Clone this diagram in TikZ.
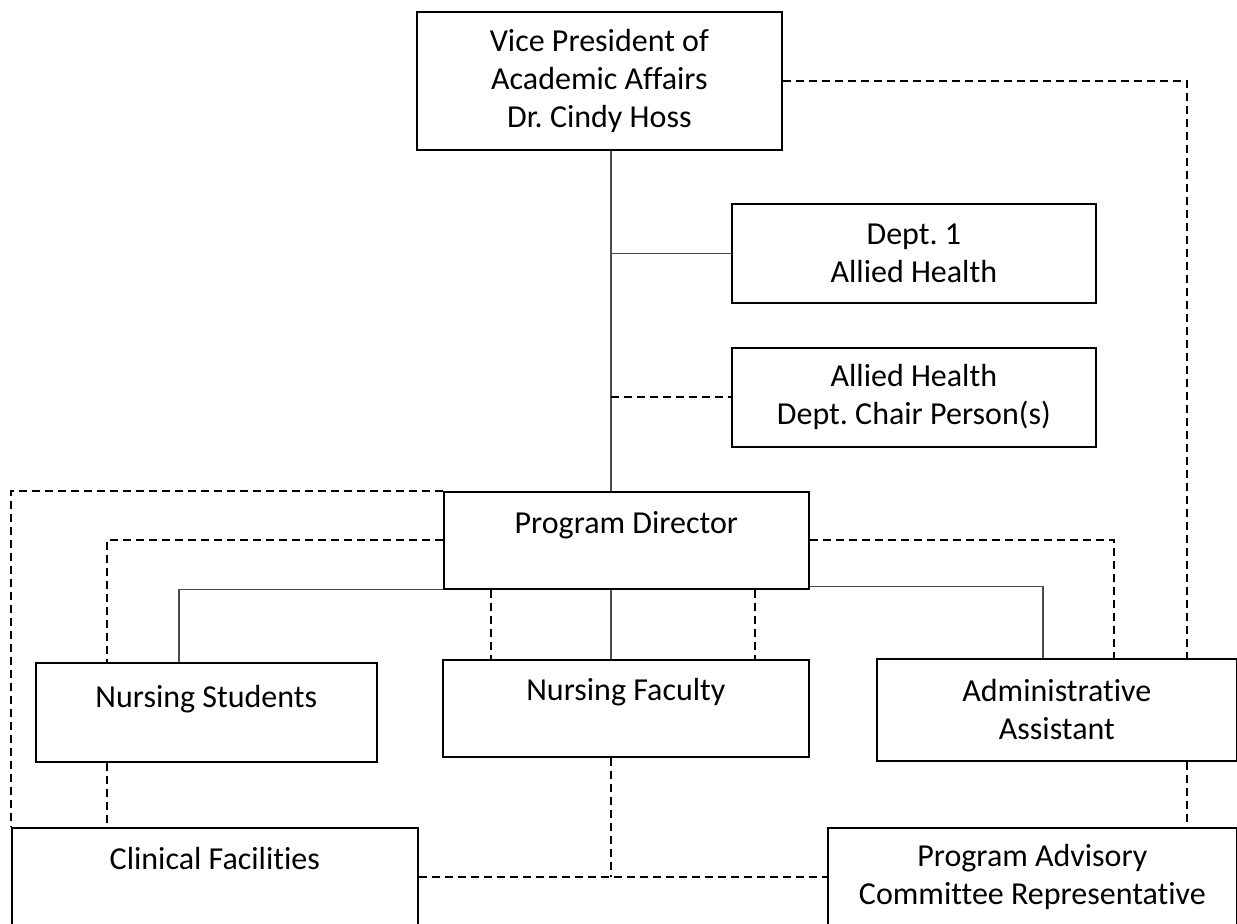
\documentclass[tikz,border=0pt]{standalone}
\usepackage{fontspec}
\setmainfont{Carlito}[Ligatures=NoCommon]
\frenchspacing

\tikzset{box/.style={draw,line width=0.85pt,anchor=north west,align=center,inner sep=0pt,
                     font=\fontsize{16}{19}\selectfont},
         link/.style={line width=0.6pt,black!70},
         dotlink/.style={line width=1pt,dash pattern=on 4pt off 2.5pt}}

\begin{document}
\begin{tikzpicture}[x=0.5pt,y=-0.5pt]
                  \useasboundingbox (0,0) rectangle (1237,924);
                  \node[box,minimum width=182.5pt,minimum height=69pt] (vp) at (416,11)
                       {Vice President of\\Academic Affairs\\Dr. Cindy Hoss};
                  \node[box,minimum width=182pt,minimum height=49.5pt] (dept) at (731,203)
                       {Dept. 1\\Allied Health};
                  \node[box,minimum width=182pt,minimum height=49.5pt] (chair) at (731,347)
                       {Allied Health\\Dept. Chair Person(s)};
                  \node[box,minimum width=182.5pt,text height=21pt,text depth=27.5pt] (pd) at (443,491)
                       {Program Director};
                  \node[box,minimum width=170.5pt,text height=22.5pt,text depth=27pt] (ns) at (35,662)
                       {Nursing Students};
                  \node[box,minimum width=183pt,text height=20.5pt,text depth=28pt] (nf) at (442,659)
                       {Nursing Faculty};
                  \node[box,minimum width=180pt,minimum height=51pt] (aa) at (876,658)
                       {Administrative\\Assistant};
                  \node[box,minimum width=203pt,text height=21pt,text depth=28.5pt] (cf) at (11,827)
                       {Clinical Facilities};
                  \node[box,minimum width=204.5pt,minimum height=49.5pt] (pac) at (827,827)
                       {Program Advisory\\Committee Representative};
                  \coordinate (trunk) at (611,0);
                  % solid reporting lines
                  \draw[link] (vp.south -| trunk) -- (pd.north -| trunk);
                  \draw[link] (pd.south -| trunk) -- (nf.north -| trunk);
                  \draw[link] (dept.west -| trunk) -- (dept.west);
                  \draw[link] (pd.south west) -| ([xshift=72pt]ns.north west);
                  \draw[link] ([yshift=1.5pt]pd.south east) -| ([xshift=83.5pt]aa.north west);
                  % dashed lines
                  \draw[dotlink] (chair.west -| trunk) -- (chair.west);
                  \draw[dotlink] (vp.east) -| ([xshift=155.5pt]aa.north west);
                  \draw[dotlink] (pd.north west) -| (cf.north west);
                  \draw[dotlink] (pd.west) -| ([xshift=36pt]ns.north west);
                  \draw[dotlink] (pd.east) -| ([xshift=119pt]aa.north west);
                  \draw[dotlink] ([xshift=24pt]pd.south west) -- ([xshift=24pt]pd.south west |- nf.north);
                  \draw[dotlink] ([xshift=156pt]pd.south west) -- ([xshift=156pt]pd.south west |- nf.north);
                  \draw[dotlink] ([xshift=36pt]ns.south west) -- ([xshift=36pt]ns.south west |- cf.north);
                  \draw[dotlink] (nf.south -| trunk) -- (trunk |- cf.east);
                  \draw[dotlink] (cf.east) -- (pac.west);
                  \draw[dotlink] ([xshift=155.5pt]aa.south west) -- ([xshift=155.5pt]aa.south west |- pac.north);
              \end{tikzpicture}
\end{document}
